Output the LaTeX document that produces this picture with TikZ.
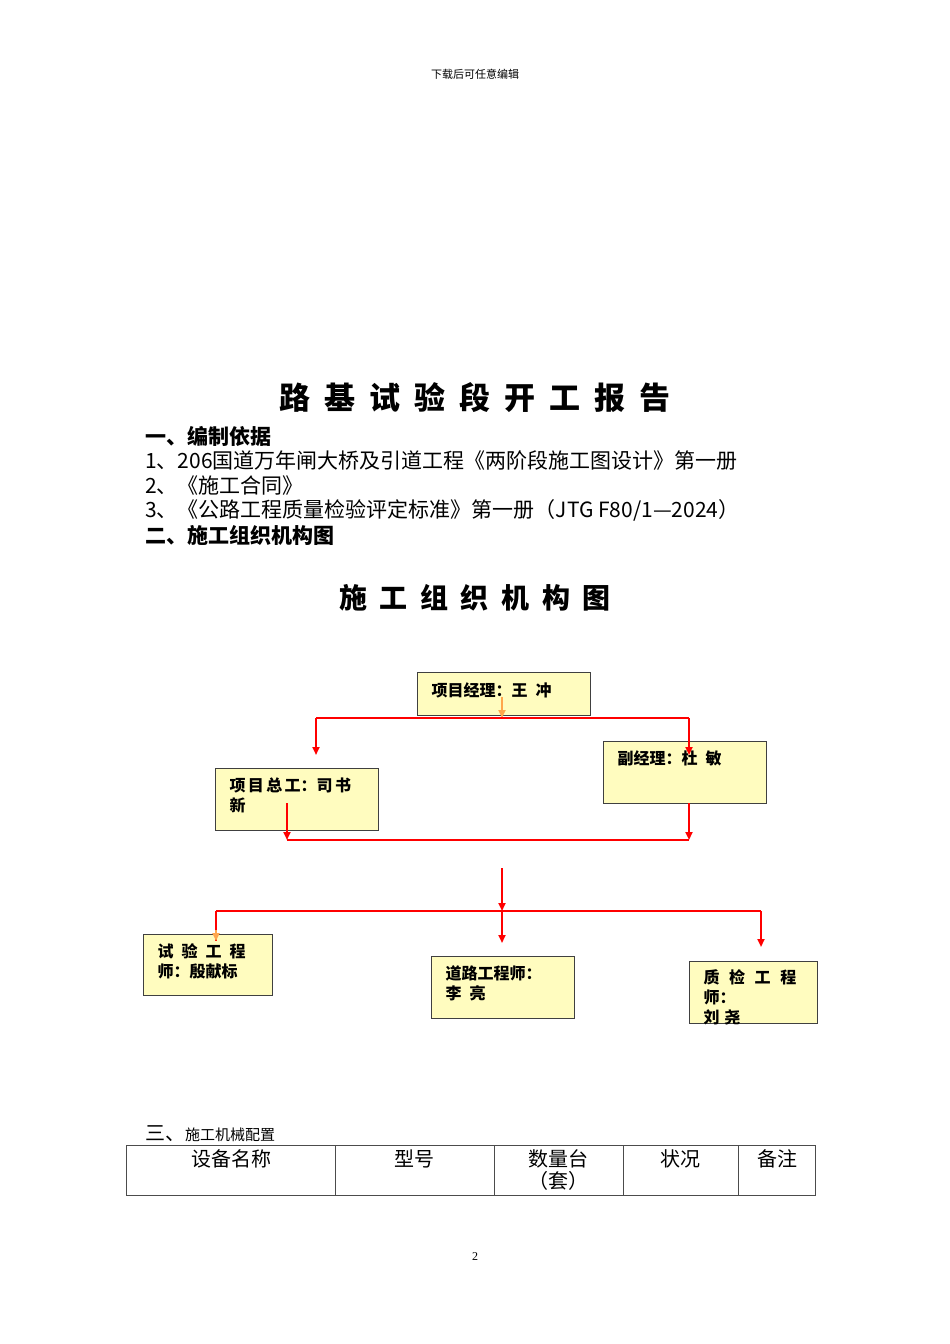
\documentclass[tikz,border=0pt]{standalone}
\usepackage{fontspec}
\setmainfont{Liberation Serif}
\newfontfamily\cjk{Noto Sans CJK SC}
\newcommand{\gapsp}{\hspace{0.45em}}
\usetikzlibrary{arrows.meta}
\begin{document}
\begin{tikzpicture}[x=1pt,y=-1pt,
  box/.style={draw=black!75,line width=1pt,fill=yellow!25,anchor=north west,inner sep=0pt},
  lbl/.style={anchor=north west,font=\cjk\bfseries\fontsize{16}{20}\selectfont,align=left},
  red/.style={draw=red,line width=2.2pt},
  arr/.style={red,-{Triangle[width=7pt,length=8pt]}},
  txt/.style={font=\cjk\fontsize{21}{24}\selectfont,anchor=west,inner sep=0pt}]
\useasboundingbox[fill=white] (0,0) rectangle (950,1344);
\node[font=\cjk\fontsize{11}{13}\selectfont] (hd) at (475,74) {下载后可任意编辑};
\node[font=\cjk\bfseries\fontsize{31}{34}\selectfont] (t1) at (475,398) {路\gapsp 基\gapsp 试\gapsp 验\gapsp 段\gapsp 开\gapsp 工\gapsp 报\gapsp 告};
\node[txt,font=\cjk\bfseries\fontsize{21}{24}\selectfont] (h1) at (145,436) {一、编制依据};
\node[txt] (l1) at (145,461) {1、206国道万年闸大桥及引道工程《两阶段施工图设计》第一册};
\node[txt] (l2) at (145,486) {2、《施工合同》};
\node[txt] (l3) at (145,510) {3、《公路工程质量检验评定标准》第一册（JTG F80/1—2024）};
\node[txt,font=\cjk\bfseries\fontsize{21}{24}\selectfont] (h2) at (145,535) {二、施工组织机构图};
\node[font=\cjk\bfseries\fontsize{28}{30}\selectfont] (t2) at (475,598) {施\gapsp 工\gapsp 组\gapsp 织\gapsp 机\gapsp 构\gapsp 图};
% boxes
\draw[box] (417,672) rectangle (590,715);
\node[lbl] (pm) at (428,679) {项目经理：王\hspace{0.5em}冲};
\draw[box] (215,768) rectangle (378,830);
\node[lbl] (zg) at (226,774) {项\hspace{0.15em}目\hspace{0.15em}总\hspace{0.15em}工：司\hspace{0.15em}书\\新};
\draw[box] (603,741) rectangle (766,803);
\node[lbl] (fj) at (614,747) {副经理：杜\hspace{0.5em}敏};
\draw[box] (143,934) rectangle (272,995);
\node[lbl] (sy) at (154,940) {试\hspace{0.5em}验\hspace{0.5em}工\hspace{0.5em}程\\师：殷献标};
\draw[box] (431,956) rectangle (574,1018);
\node[lbl] (dl) at (442,962) {道路工程师：\\李\hspace{0.5em}亮};
\draw[box] (689,961) rectangle (817,1023);
\node[lbl] (zj) at (700,966) {质\hspace{0.6em}检\hspace{0.6em}工\hspace{0.6em}程\\师：\\刘\hspace{0.3em}尧};
% connectors
\coordinate (a0) at (502,697); \coordinate (a1) at (502,718);
\draw[draw=orange!70,line width=2.2pt,-{Triangle[width=7pt,length=8pt]}] (a0) -- (a1);
\coordinate (hl) at (316,718); \coordinate (hr) at (689,718);
\draw[red] (hl) -- (hr);
\coordinate (dl1) at (316,755); \coordinate (dr1) at (689,755);
\draw[arr] (hl) -- (dl1);
\draw[arr] (hr) -- (dr1);
\coordinate (z0) at (287,803); \coordinate (z1) at (287,840);
\coordinate (f0) at (689,803); \coordinate (f1) at (689,840);
\draw[arr] (z0) -- (z1);
\draw[arr] (f0) -- (f1);
\draw[red] (z1) -- (f1);
\coordinate (m0) at (502,868); \coordinate (m1) at (502,911);
\draw[arr] (m0) -- (m1);
\coordinate (bl) at (216,911); \coordinate (br) at (761,911);
\draw[red] (bl) -- (br);
\coordinate (bl1) at (216,941); \coordinate (bm1) at (502,943); \coordinate (br1) at (761,947);
\draw[red] (bl) -- (bl1);
\draw[draw=orange!70,line width=2.2pt,-{Triangle[width=7pt,length=8pt]}] (216,930) -- (bl1);
\draw[arr] (m1) -- (bm1);
\draw[arr] (br) -- (br1);
% section three
\node[anchor=west,inner sep=0pt] (h3) at (145,1134) {\cjk\fontsize{20}{22}\selectfont 三、\fontsize{15}{16}\selectfont 施工机械配置};
\draw[black!70,line width=0.8pt] (126,1145) rectangle (815,1195);
\foreach \x in {335,494,623,738} \draw[black!70,line width=0.8pt] (\x,1145) -- (\x,1195);
\node[font=\cjk\fontsize{20}{22}\selectfont] (c1) at (231,1159) {设备名称};
\node[font=\cjk\fontsize{20}{22}\selectfont] (c2) at (414,1159) {型号};
\node[font=\cjk\fontsize{20}{22}\selectfont,align=center] (c3) at (558,1170) {数量台\\（套）};
\node[font=\cjk\fontsize{20}{22}\selectfont] (c4) at (680,1159) {状况};
\node[font=\cjk\fontsize{20}{22}\selectfont] (c5) at (777,1159) {备注};
\node[font=\fontsize{12}{14}\selectfont] (pg) at (475,1257) {2};
\end{tikzpicture}
\end{document}
